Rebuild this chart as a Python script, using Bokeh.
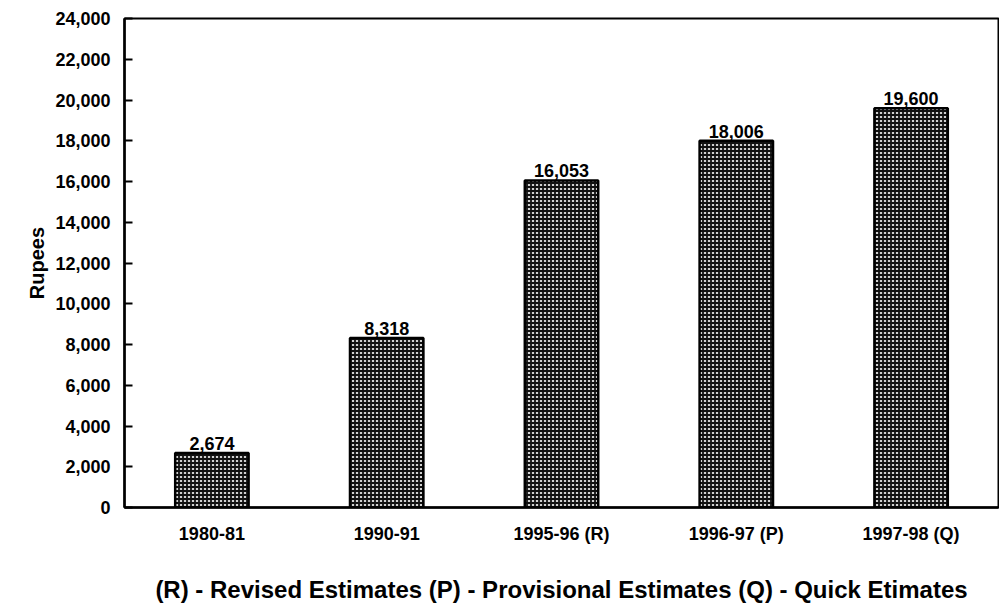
from bokeh.plotting import figure
from bokeh.models import ColumnDataSource, NumeralTickFormatter, FixedTicker, Range1d, LabelSet
from bokeh.core.properties import value
from bokeh.embed import file_html
from bokeh.resources import INLINE

categories = ["1980-81", "1990-91", "1995-96 (R)", "1996-97 (P)", "1997-98 (Q)"]
values = [2674, 8318, 16053, 18006, 19600]
value_labels = ["2,674", "8,318", "16,053", "18,006", "19,600"]
y_ticks = list(range(0, 24001, 2000))

src = ColumnDataSource(dict(x=categories, y=values, lab=value_labels))

p = figure(x_range=categories, y_range=Range1d(0, 24000), width=999, height=605,
           output_backend="svg", toolbar_location=None,
           min_border_left=124, min_border_top=18, min_border_bottom=98, min_border_right=1)
p.x_range.range_padding = 0

p.vbar(x="x", top="y", width=0.42, source=src, fill_color="#d0d0d0",
       line_color="black", line_width=2.5,
       hatch_pattern="+", hatch_color="#111111", hatch_scale=4, hatch_weight=1.8)

labels = LabelSet(x="x", y="y", text="lab", source=src, text_align="center",
                  text_baseline="bottom", y_offset=3, text_font=value("Liberation Sans"),
                  text_font_style="bold", text_font_size="18px", text_color="black")
p.add_layout(labels)

p.grid.visible = False
p.outline_line_color = "black"
p.outline_line_width = 2

p.yaxis.ticker = FixedTicker(ticks=y_ticks)
p.yaxis.formatter = NumeralTickFormatter(format="0,0")
p.yaxis.major_tick_in = 8
p.yaxis.major_tick_out = 0
p.yaxis.minor_tick_line_color = None
p.yaxis.axis_line_width = 2.5
p.yaxis.major_tick_line_width = 2
p.yaxis.major_label_text_font = "Liberation Sans"
p.yaxis.major_label_text_font_style = "bold"
p.yaxis.major_label_text_font_size = "18px"
p.yaxis.major_label_text_color = "black"
p.yaxis.major_label_standoff = 14
p.yaxis.axis_label = "Rupees"
p.yaxis.axis_label_text_font = "Liberation Sans"
p.yaxis.axis_label_text_font_style = "bold"
p.yaxis.axis_label_text_font_size = "20px"
p.yaxis.axis_label_text_color = "black"
p.yaxis.axis_label_standoff = 4

p.xaxis.major_tick_line_color = None
p.xaxis.minor_tick_line_color = None
p.xaxis.axis_line_width = 2.5
p.xaxis.major_label_text_font = "Liberation Sans"
p.xaxis.major_label_text_font_style = "bold"
p.xaxis.major_label_text_font_size = "18px"
p.xaxis.major_label_text_color = "black"
p.xaxis.major_label_standoff = 10
p.xaxis.axis_label = "(R) - Revised Estimates (P) - Provisional Estimates (Q) - Quick Etimates"
p.xaxis.axis_label_text_font = "Liberation Sans"
p.xaxis.axis_label_text_font_style = "bold"
p.xaxis.axis_label_text_font_size = "24px"
p.xaxis.axis_label_text_color = "black"
p.xaxis.axis_label_standoff = 29

open("out.html", "w").write(file_html(p, INLINE))
